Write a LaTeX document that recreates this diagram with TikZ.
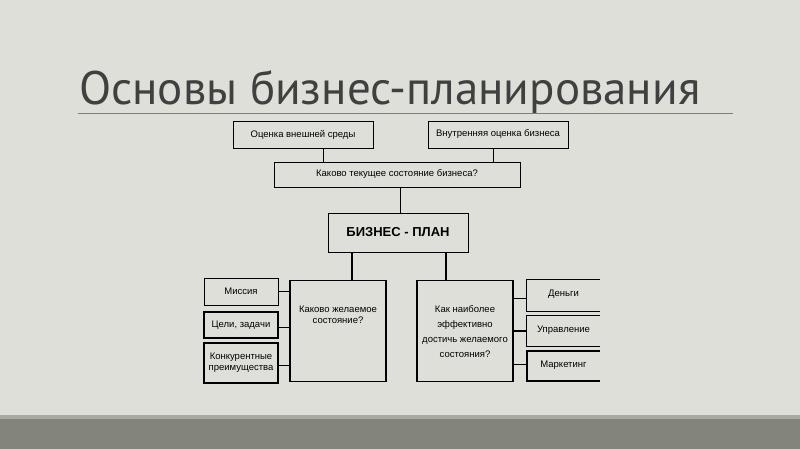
\documentclass[tikz,border=0pt]{standalone}
\usepackage{fontspec}
\setmainfont{Liberation Sans}
\newfontfamily\titlefont{PT Sans}
\definecolor{bg}{HTML}{DFDFDA}
\definecolor{stripe}{HTML}{A9A9A1}
\definecolor{band}{HTML}{83847C}
\definecolor{titlegray}{HTML}{404040}
\definecolor{rulegray}{HTML}{7F7F7F}
\begin{document}
\begin{tikzpicture}[x=1pt,y=-1pt,
  box/.style={draw=black,line width=0.9pt,rectangle,inner sep=0pt,align=center,
    font=\fontsize{9.5}{11.5}\selectfont},
  openbox/.style={rectangle,inner sep=0pt,align=center,font=\fontsize{9.5}{11.5}\selectfont},
  thickbox/.style={box,line width=1.6pt},
  wire/.style={draw=black,line width=0.9pt},
  thickwire/.style={draw=black,line width=1.8pt},
  boxtext/.style={align=center,inner sep=0pt,font=\fontsize{9.5}{11.5}\selectfont}
]
\useasboundingbox (0,0) rectangle (800,449);
\fill[bg] (0,0) rectangle (800,449);
\fill[stripe] (0,415) rectangle (800,419);
\fill[band] (0,419) rectangle (800,449);

% title
\node[anchor=base west,inner sep=0pt,text=titlegray,font=\titlefont\fontsize{47}{54}\selectfont] (title) at (79,105) {Основы бизнес-планирования};
\draw[rulegray,line width=1pt] (78,114) -- (733,114);

% top row
\node[box,minimum width=140,minimum height=27] (ext) at (303,134.5) {Оценка внешней среды};
\node[box,minimum width=140,minimum height=27] (int) at (498,134.5) {Внутренняя оценка бизнеса};
\node[box,minimum width=246,minimum height=25] (cur) at (397,174.5) {Каково текущее состояние бизнеса?};
\node[box,minimum width=140,minimum height=39,font=\bfseries\fontsize{13}{15}\selectfont] (plan) at (398,232.5) {БИЗНЕС - ПЛАН};

% main question boxes
\node[thickbox,minimum width=96,minimum height=101] (des) at (338,331) {};
\node[boxtext] (desT) at ([yshift=16]des.center) {Каково желаемое\\состояние?};
\node[thickbox,minimum width=96,minimum height=101] (how) at (465,331) {};
\node[boxtext,font=\fontsize{9.5}{15}\selectfont] (howT) at ([yshift=-1]how.center) {Как наиболее\\эффективно\\достичь желаемого\\состояния?};

% left boxes
\node[box,minimum width=74,minimum height=27] (mis) at (241,291.5) {Миссия};
\node[thickbox,minimum width=74,minimum height=26] (goal) at (241,325) {Цели, задачи};
\node[thickbox,minimum width=74,minimum height=40,font=\fontsize{9.5}{11}\selectfont] (comp) at (241,363) {Конкурентные\\преимущества};

% right open boxes
\node[openbox,minimum width=73,minimum height=31] (money) at (563.5,295.5) {\raisebox{4pt}{Деньги}};
\node[openbox,minimum width=73,minimum height=30] (mgmt) at (563.5,331) {\raisebox{4pt}{Управление}};
\node[openbox,minimum width=73,minimum height=30] (mkt) at (563.5,366) {\raisebox{4pt}{Маркетинг}};
\draw[wire] (money.north east) -- (money.north west) -- (money.south west) -- (money.south east);
\draw[wire] (mgmt.north east) -- (mgmt.north west) -- (mgmt.south west) -- (mgmt.south east);
\draw[line width=1.8pt] (mkt.north east) -- (mkt.north west) -- (mkt.south west) -- (mkt.south east);

% connectors
\draw[wire] ([xshift=20]ext.south) -- ([xshift=20]ext.south |- cur.north);
\draw[wire] ([xshift=-5]int.south) -- ([xshift=-5]int.south |- cur.north);
\draw[wire] ([xshift=2]plan.north) -- ([xshift=2]plan.north |- cur.south);
\draw[thickwire] ([xshift=-46]plan.south) -- ([xshift=-46]plan.south |- des.north);
\draw[thickwire] ([xshift=48]plan.south) -- ([xshift=48]plan.south |- how.north);
\draw[thickwire] (mis.east) -- (mis.east -| des.west);
\draw[wire] ([yshift=-2]goal.east) -- ([yshift=-2]goal.east -| des.west);
\draw[wire] ([yshift=-2]comp.east) -- ([yshift=-2]comp.east -| des.west);
\draw[wire] ([yshift=-3]money.west) -- ([yshift=-3]money.west -| how.east);
\draw[thickwire] (mgmt.west) -- (mgmt.west -| how.east);
\draw[wire] ([yshift=2]mkt.west) -- ([yshift=2]mkt.west -| how.east);
\end{tikzpicture}
\end{document}
